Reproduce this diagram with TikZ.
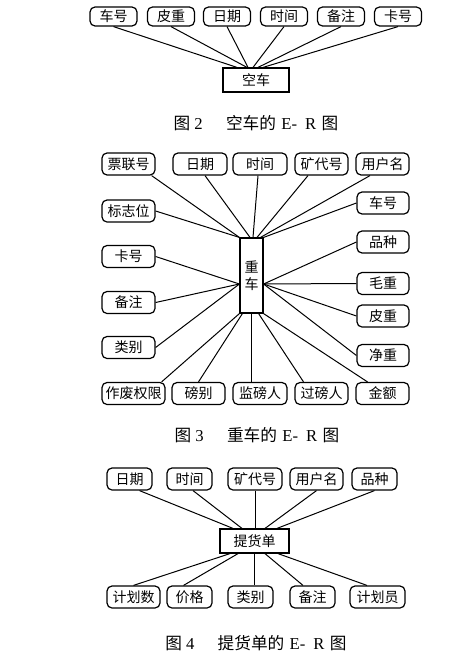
\documentclass[tikz,border=0pt]{standalone}
\usepackage{fontspec}
\setmainfont{Liberation Serif}
\newfontfamily\cjk{Noto Sans CJK SC}
\begin{document}
\begin{tikzpicture}[x=0.75pt,y=-0.75pt,
  attr/.style={draw, rounded corners=3.75pt, line width=0.9pt, inner sep=0pt,
    minimum height=22*0.75pt, font=\cjk\fontsize{10.5}{12}\selectfont},
  ent/.style={draw, line width=0.9pt, inner sep=0pt, align=center,
    font=\cjk\fontsize{10.5}{13}\selectfont},
  bw/.style={minimum width=#1*0.75pt},
  bh/.style={minimum height=#1*0.75pt},
  conn/.style={line width=0.75pt},
  figcap/.style={font=\fontsize{12.5}{14}\selectfont}]
\useasboundingbox (0,0) rectangle (469,664);
% ---------- Figure 2 ----------
\node[attr,bw=47,bh=19] (e1) at (113.5,16.5) {车号};
\node[attr,bw=47,bh=19] (e2) at (171,16.5) {皮重};
\node[attr,bw=47,bh=19] (e3) at (227,16.5) {日期};
\node[attr,bw=47,bh=19] (e4) at (284,16.5) {时间};
\node[attr,bw=47,bh=19] (e5) at (341,16.5) {备注};
\node[attr,bw=47,bh=19] (e6) at (398,16.5) {卡号};
\node[ent,bw=66,bh=24] (ek) at (256,80) {空车};
\draw[conn] (e1.south) -- ([shift={(-19,0)}]ek.north);
\draw[conn] (e2.south) -- ([shift={(-9,0)}]ek.north);
\draw[conn] (e3.south) -- ([shift={(-8,0)}]ek.north);
\draw[conn] (e4.south) -- ([shift={(-3,0)}]ek.north);
\draw[conn] (e5.south) -- ([shift={(2,0)}]ek.north);
\draw[conn] (e6.south) -- ([shift={(7,0)}]ek.north);
\node[figcap] (c2) at (256,123) {{\cjk 图}\hspace{3pt}2\hspace{1.4em}{\cjk 空车的}\hspace{4pt}E-\hspace{6pt}R\hspace{4pt}{\cjk 图}};
% ---------- Figure 3 ----------
\node[attr,bw=53] (h1) at (128.5,164) {票联号};
\node[attr,bw=54] (h2) at (200,164) {日期};
\node[attr,bw=54] (h3) at (260,164) {时间};
\node[attr,bw=53] (h4) at (321.5,164) {矿代号};
\node[attr,bw=53] (h5) at (382.5,164) {用户名};
\node[attr,bw=53] (l1) at (128.5,211) {标志位};
\node[attr,bw=53] (l2) at (128.5,256.5) {卡号};
\node[attr,bw=53] (l3) at (128.5,302.5) {备注};
\node[attr,bw=53] (l4) at (128.5,347.5) {类别};
\node[attr,bw=52] (r1) at (383,203) {车号};
\node[attr,bw=52] (r2) at (383,242) {品种};
\node[attr,bw=52] (r3) at (383,283.5) {毛重};
\node[attr,bw=52] (r4) at (383,316) {皮重};
\node[attr,bw=52] (r5) at (383,355.5) {净重};
\node[attr,bw=63] (b1) at (133.5,393.5) {作废权限};
\node[attr,bw=53] (b2) at (198.5,393.5) {磅别};
\node[attr,bw=54] (b3) at (260,393.5) {监磅人};
\node[attr,bw=53] (b4) at (321.5,393.5) {过磅人};
\node[attr,bw=53] (b5) at (382.5,393.5) {金额};
\node[ent,bw=23,bh=75] (zc) at (251.5,275.5) {重\\车};
\draw[conn] ([shift={(-4,0)}]h1.south east) -- (zc.north west);
\draw[conn] ([shift={(5,0)}]h2.south) -- ([shift={(-1.5,0)}]zc.north);
\draw[conn] ([shift={(-2,0)}]h3.south) -- ([shift={(1.5,0)}]zc.north);
\draw[conn] ([shift={(-13.5,0)}]h4.south) -- ([shift={(5.5,0)}]zc.north);
\draw[conn] ([shift={(-12.5,0)}]h5.south) -- ([shift={(9,0)}]zc.north);
\draw[conn] (l1.east) -- (zc.north west);
\draw[conn] (r1.west) -- (zc.north east);
\draw[conn] (l2.east) -- ([shift={(0,8.5)}]zc.west);
\draw[conn] (l3.east) -- ([shift={(0,8.5)}]zc.west);
\draw[conn] (l4.east) -- ([shift={(0,8.5)}]zc.west);
\draw[conn] (r2.west) -- ([shift={(0,8.5)}]zc.east);
\draw[conn] (r3.west) -- ([shift={(0,8.5)}]zc.east);
\draw[conn] (r4.west) -- ([shift={(0,8.5)}]zc.east);
\draw[conn] (r5.west) -- ([shift={(0,8.5)}]zc.east);
\draw[conn] (zc.south west) -- ([shift={(-4,0)}]b1.north east);
\draw[conn] ([shift={(3,0)}]zc.south west) -- (b2.north);
\draw[conn] (zc.south) -- (zc.south |- b3.north);
\draw[conn] ([shift={(-5,0)}]zc.south east) -- ([shift={(-18,0)}]b4.north);
\draw[conn] (zc.south east) -- ([shift={(-15,0)}]b5.north);
\node[figcap] (c3) at (257,435) {{\cjk 图}\hspace{3pt}3\hspace{1.4em}{\cjk 重车的}\hspace{4pt}E-\hspace{6pt}R\hspace{4pt}{\cjk 图}};
% ---------- Figure 4 ----------
\node[attr,bw=45] (t1) at (129.5,479) {日期};
\node[attr,bw=45] (t2) at (189.5,479) {时间};
\node[attr,bw=54] (t3) at (255,479) {矿代号};
\node[attr,bw=53] (t4) at (316.5,479) {用户名};
\node[attr,bw=45] (t5) at (374.5,479) {品种};
\node[ent,bw=69,bh=24] (tc) at (254.5,541) {提货单};
\node[attr,bw=53] (u1) at (133.5,597) {计划数};
\node[attr,bw=45] (u2) at (189.5,597) {价格};
\node[attr,bw=45] (u3) at (250.5,597) {类别};
\node[attr,bw=45] (u4) at (312.5,597) {备注};
\node[attr,bw=55] (u5) at (377.5,597) {计划员};
\draw[conn] ([shift={(10,0)}]t1.south) -- ([shift={(-21.5,0)}]tc.north);
\draw[conn] ([shift={(3.5,0)}]t2.south) -- ([shift={(-12.5,0)}]tc.north);
\draw[conn] (t3.south) -- (t3.south |- tc.north);
\draw[conn] (t4.south) -- ([shift={(10.5,0)}]tc.north);
\draw[conn] (t5.south) -- ([shift={(22.5,0)}]tc.north);
\draw[conn] ([shift={(-24.5,0)}]tc.south) -- (u1.north);
\draw[conn] ([shift={(-16.5,0)}]tc.south) -- ([shift={(-6,0)}]u2.north);
\draw[conn] (tc.south) -- (tc.south |- u3.north);
\draw[conn] ([shift={(10.5,0)}]tc.south) -- ([shift={(-9.5,0)}]u4.north);
\draw[conn] ([shift={(23.5,0)}]tc.south) -- ([shift={(-10.5,0)}]u5.north);
\node[figcap] (c4) at (256,643) {{\cjk 图}\hspace{3pt}4\hspace{1.4em}{\cjk 提货单的}\hspace{4pt}E-\hspace{6pt}R\hspace{4pt}{\cjk 图}};
\end{tikzpicture}
\end{document}
